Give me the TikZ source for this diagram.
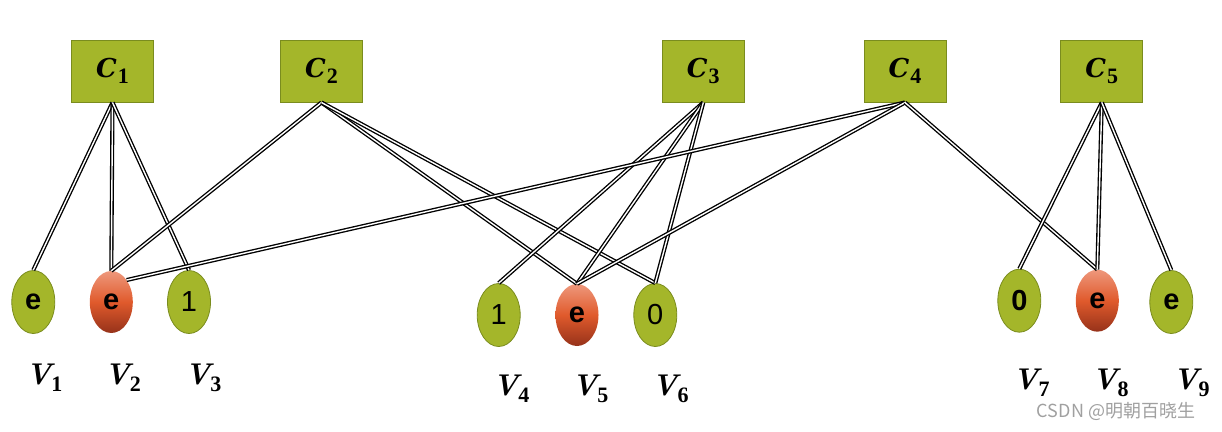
\documentclass[tikz,border=0pt]{standalone}
\usepackage{fontspec}
\usetikzlibrary{shapes.geometric}
\newfontfamily\arialfont{Liberation Sans}
\newfontfamily\cjkfont{Noto Sans CJK SC}
\newfontfamily\labletter{DejaVu Serif}
\newfontfamily\labdigit{Liberation Serif}
\definecolor{cgreen}{RGB}{164,182,42}
\definecolor{cborder}{RGB}{122,140,30}
\definecolor{rtop}{RGB}{238,152,124}
\definecolor{rmid}{RGB}{224,90,44}
\definecolor{rbot}{RGB}{150,50,26}
\definecolor{wmark}{RGB}{160,160,160}
\tikzset{
  cbox/.style={rectangle, draw=cborder, fill=cgreen, line width=1pt,
    minimum width=82pt, minimum height=62pt, inner sep=0pt},
  vgreen/.style={ellipse, draw=cborder, fill=cgreen, line width=0.8pt,
    minimum width=43pt, minimum height=63pt, inner sep=0pt,
    font=\arialfont\fontsize{29}{30}\selectfont},
  vred/.style={ellipse, top color=rtop, bottom color=rbot, middle color=rmid,
    minimum width=43pt, minimum height=62pt, inner sep=0pt,
    font=\arialfont\fontsize{29}{30}\selectfont},
  vlabel/.style={anchor=base, inner sep=0pt},
  link/.style={draw=black, line width=1.35pt, double=white, double distance=1.4pt},
}
\newcommand{\ev}[1]{\raisebox{-4pt}{#1}}
\newcommand{\clab}[1]{{\labletter\fontsize{26}{28}\selectfont\bfseries\itshape C}\kern1pt\raisebox{-6pt}{\labdigit\fontsize{22}{24}\selectfont\bfseries #1}}
\newcommand{\vlab}[1]{{\fontsize{30}{32}\selectfont\bfseries\itshape V}\kern0pt\raisebox{-7pt}{\labdigit\fontsize{22}{24}\selectfont\bfseries #1}}
\begin{document}
\begin{tikzpicture}[x=1pt,y=-1pt]
\useasboundingbox (0,0) rectangle (1222,431);
% constraint boxes
\node[cbox] (C1) at (112.5,71) {\clab{1}};
\node[cbox] (C2) at (321.5,71) {\clab{2}};
\node[cbox] (C3) at (703.3,71) {\clab{3}};
\node[cbox] (C4) at (905,71) {\clab{4}};
\node[cbox] (C5) at (1101.8,71) {\clab{5}};
% variable ellipses
\node[vgreen] (V1) at (33.3,302) {\ev{\bfseries e}};
\node[vred]   (V2) at (111.3,302) {\ev{\bfseries e}};
\node[vgreen] (V3) at (189,302) {\ev{1}};
\node[vgreen] (V4) at (498.7,315) {\ev{1}};
\node[vred]   (V5) at (577,315) {\ev{\bfseries e}};
\node[vgreen] (V6) at (655.3,315) {\ev{0}};
\node[vgreen] (V7) at (1019.3,300.7) {\ev{\bfseries 0}};
\node[vred]   (V8) at (1097.3,300.7) {\ev{\bfseries e}};
\node[vgreen] (V9) at (1171.3,302) {\ev{\bfseries e}};
% labels
\node[vlabel] (L1) at (44,384) {\vlab{1}};
\node[vlabel] (L2) at (122.5,384) {\vlab{2}};
\node[vlabel] (L3) at (203,384) {\vlab{3}};
\node[vlabel] (L4) at (511,395) {\vlab{4}};
\node[vlabel] (L5) at (590,395) {\vlab{5}};
\node[vlabel] (L6) at (670,395) {\vlab{6}};
\node[vlabel] (L7) at (1031,389) {\vlab{7}};
\node[vlabel] (L8) at (1110,389) {\vlab{8}};
\node[vlabel] (L9) at (1191,389) {\vlab{9}};
% links
\draw[link] (C1.south) -- (V1.north);
\draw[link] (C1.south) -- (V2.north);
\draw[link] (C1.south) -- (V3.north);
\draw[link] (C2.south) -- (V2.north);
\draw[link] (C2.south) -- (V5.north);
\draw[link] (C2.south) -- (V6.north);
\draw[link] (C3.south) -- (V4.north);
\draw[link] (C3.south) -- (V5.north);
\draw[link] (C3.south) -- (V6.north);
\draw[link] (C4.south) -- (V2.55);
\draw[link] (C4.south) -- (V5.north);
\draw[link] (C4.south) -- (V8.north);
\draw[link] (C5.south) -- (V7.north);
\draw[link] (C5.south) -- (V8.north);
\draw[link] (C5.south) -- (V9.north);
% watermark
\node[text=wmark, font=\cjkfont\fontsize{18}{20}\selectfont] (wm) at (1116,411) {CSDN @明朝百晓生};
\end{tikzpicture}
\end{document}
